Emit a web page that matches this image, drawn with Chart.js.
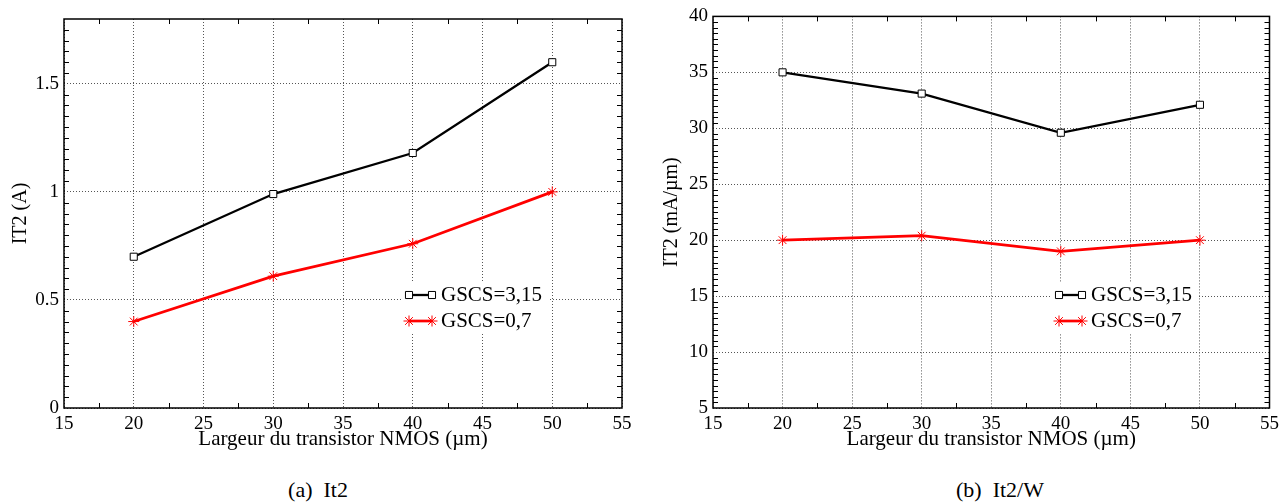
<!DOCTYPE html>
<html><head><meta charset="utf-8">
<script src="https://cdn.jsdelivr.net/npm/chart.js@4.4.0/dist/chart.umd.min.js"></script>
<style>
html,body{margin:0;padding:0;background:#fff;}
body{width:1284px;height:503px;overflow:hidden;position:relative;font-family:"Liberation Serif","Times New Roman",serif;}
.box{position:absolute;top:0;height:452px;}
#boxA{left:0;width:650px;}
#boxB{left:650px;width:634px;}
.cap{position:absolute;top:479px;font-size:22px;line-height:22px;white-space:pre;color:#000;transform:translateX(-50%);}
</style></head>
<body>
<div class="box" id="boxA"><canvas id="cA"></canvas></div>
<div class="box" id="boxB"><canvas id="cB"></canvas></div>
<div class="cap" style="left:318px">(a)  It2</div>
<div class="cap" style="left:1000px">(b)  It2/W</div>
<script>
// ---- data ----
const widths = [20, 30, 40, 50];
const seriesNames = ['GSCS=3,15', 'GSCS=0,7'];
const it2_315 = [0.70, 0.99, 1.18, 1.60];
const it2_07 = [0.40, 0.61, 0.76, 1.00];
const it2w_315 = [35.0, 33.1, 29.6, 32.1];
const it2w_07 = [20.0, 20.4, 19.0, 20.0];
const xTitle = 'Largeur du transistor NMOS (\u00b5m)';
const yTitleA = 'IT2 (A)';
const yTitleB = 'IT2 (mA/\u00b5m)';

const FONT = "'Liberation Serif', 'Times New Roman', serif";

const framePlugin = {
  id: 'frame',
  afterDraw(chart, args, opts) {
    const ctx = chart.ctx;
    const {left, top, right, bottom} = chart.chartArea;
    const xs = chart.scales.x, ys = chart.scales.y;
    ctx.save();
    ctx.strokeStyle = '#000';
    ctx.lineWidth = 1;
    const tl = 5;
    const drawMinor = (scale, step, major, horiz) => {
      const n = Math.round((scale.max - scale.min) / step);
      for (let i = 1; i < n; i++) {
        const v = scale.min + i * step;
        const r = v / major;
        if (Math.abs(r - Math.round(r)) < 1e-6) continue;
        const p = Math.round(scale.getPixelForValue(v)) + 0.5;
        ctx.beginPath();
        if (horiz) {
          ctx.moveTo(p, bottom); ctx.lineTo(p, bottom - tl);
          ctx.moveTo(p, top); ctx.lineTo(p, top + tl);
        } else {
          ctx.moveTo(left, p); ctx.lineTo(left + tl, p);
          ctx.moveTo(right, p); ctx.lineTo(right - tl, p);
        }
        ctx.stroke();
      }
    };
    drawMinor(xs, opts.xMinor, opts.xMajor, true);
    drawMinor(ys, opts.yMinor, opts.yMajor, false);
    ctx.lineWidth = 1.5;
    ctx.strokeRect(left, top, right - left, bottom - top);
    // legend
    const L = opts.legend;
    ctx.fillStyle = '#fff';
    ctx.fillRect(L.bx, L.by, L.bw, L.bh);
    ctx.font = '21px ' + FONT;
    ctx.textBaseline = 'middle';
    ctx.textAlign = 'left';
    chart.data.datasets.forEach((ds, i) => {
      const yy = L.y + i * L.dy;
      ctx.strokeStyle = ds.borderColor;
      ctx.lineWidth = ds.borderWidth;
      ctx.beginPath();
      ctx.moveTo(L.x, yy); ctx.lineTo(L.x + L.len, yy);
      ctx.stroke();
      const po = {pointStyle: ds.pointStyle, radius: ds.pointRadius, borderWidth: ds.pointBorderWidth, rotation: 0};
      [L.x, L.x + L.len].forEach(px => {
        ctx.strokeStyle = ds.pointBorderColor;
        ctx.fillStyle = ds.pointBackgroundColor;
        ctx.lineWidth = ds.pointBorderWidth;
        Chart.helpers.drawPoint(ctx, po, px, yy);
      });
      ctx.fillStyle = '#000';
      ctx.fillText(ds.label, L.tx, yy);
    });
    ctx.restore();
  }
};

function makeDatasets(a, b) {
  return [
    {
      label: seriesNames[0],
      data: widths.map((w, i) => ({x: w, y: a[i]})),
      borderColor: '#000', borderWidth: 2.3,
      pointStyle: 'rect', pointRadius: 5, pointBorderWidth: 1,
      pointBorderColor: '#000', pointBackgroundColor: '#fff',
      pointHoverRadius: 5, tension: 0
    },
    {
      label: seriesNames[1],
      data: widths.map((w, i) => ({x: w, y: b[i]})),
      borderColor: '#ff0000', borderWidth: 2.7,
      pointStyle: 'star', pointRadius: 5.5, pointBorderWidth: 1,
      pointBorderColor: '#ff0000', pointBackgroundColor: '#ff0000',
      pointHoverRadius: 5.5, tension: 0
    }
  ];
}

function makeChart(id, a, b, cfg) {
  return new Chart(document.getElementById(id), {
    type: 'line',
    data: {datasets: makeDatasets(a, b)},
    plugins: [framePlugin],
    options: {
      responsive: true,
      maintainAspectRatio: false,
      animation: false,
      events: [],
      layout: {padding: {left: 0, top: cfg.padTop, right: cfg.padRight, bottom: 0}},
      plugins: {
        legend: {display: false},
        tooltip: {enabled: false},
        frame: {
          xMinor: 2.5, xMajor: 5, yMinor: cfg.yMinor, yMajor: cfg.yStep,
          legend: {x: 409, y: 295, dy: 26, len: 23, tx: 441, bx: 402, by: 282, bw: 146, bh: 52}
        }
      },
      scales: {
        x: {
          type: 'linear', min: 15, max: 55,
          afterFit(s) { s.height = 44; },
          ticks: {stepSize: 5, color: '#000', font: {family: FONT, size: 19}, padding: 5, maxRotation: 0,
                  callback: v => String(v)},
          grid: {color: '#555', lineWidth: 1, drawTicks: false},
          border: {display: false, dash: [1, 2]},
          title: {display: true, text: xTitle, color: '#000', font: {family: FONT, size: 21}, padding: {top: 0, bottom: 0}}
        },
        y: {
          type: 'linear', min: cfg.yMin, max: cfg.yMax,
          afterFit(s) { s.width = cfg.yWidth; },
          ticks: {stepSize: cfg.yStep, includeBounds: false, color: '#000', font: {family: FONT, size: 19}, padding: 5,
                  callback: v => String(v)},
          grid: {color: '#555', lineWidth: 1, drawTicks: false},
          border: {display: false, dash: [1, 2]},
          title: {display: true, text: cfg.yTitle, color: '#000', font: {family: FONT, size: 20}, padding: {top: cfg.yTitlePad, bottom: 0}}
        }
      }
    }
  });
}

makeChart('cA', it2_315, it2_07, {padTop: 19, padRight: 28, yMin: 0, yMax: 1.8, yStep: 0.5, yMinor: 0.05, yWidth: 64, yTitle: yTitleA, yTitlePad: 9});
makeChart('cB', it2w_315, it2w_07, {padTop: 16, padRight: 12, yMin: 5, yMax: 40, yStep: 5, yMinor: 0.5, yWidth: 63, yTitle: yTitleB, yTitlePad: 10});
</script>
</body></html>
